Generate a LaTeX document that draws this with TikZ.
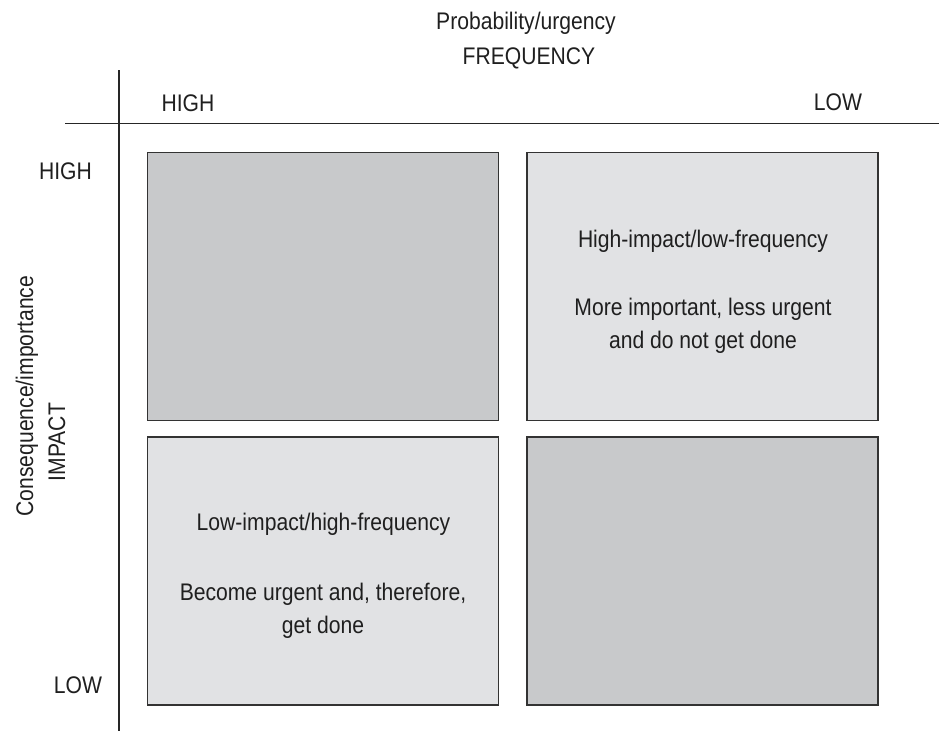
\documentclass[tikz,border=0pt]{standalone}
\usepackage{fontspec}
\setmainfont{Liberation Sans}[FakeStretch=0.88]
\begin{document}
\begin{tikzpicture}[x=1pt,y=-1pt,
  box/.style={draw=black!80,line width=1.6pt,inner sep=0pt,outer sep=0pt,anchor=north west},
  dark/.style={box,fill={rgb,255:red,200;green,201;blue,203}},
  light/.style={box,fill={rgb,255:red,225;green,226;blue,228}},
  lbl/.style={font=\fontsize{24}{33}\selectfont,text=black!88,inner sep=0pt,anchor=base},
  inbox/.style={lbl,align=center},
  axis/.style={draw=black!85,line width=1.6pt}]
\useasboundingbox (0,0) rectangle (939,731);
\coordinate (vtop) at (119,70);
\coordinate (vbot) at (119,731);
\coordinate (hl) at (65,123.5);
\coordinate (hr) at (939,123.5);
\draw[axis] (vtop) -- (vbot);
\draw[axis] (hl) -- (hr);
\node[dark,minimum width=351,minimum height=268] (tl) at (147.5,152.5) {};
\node[light,minimum width=351,minimum height=268] (tr) at (527,152.5) {};
\node[light,minimum width=351,minimum height=268] (bl) at (147.5,437) {};
\node[dark,minimum width=351,minimum height=268] (br) at (527,437) {};
\node[lbl] (prob) at (526,29) {Probability/urgency};
\node[lbl] (freq) at (529,64) {FREQUENCY};
\node[lbl] (fhigh) at (188,111) {HIGH};
\node[lbl] (flow) at (838,110) {LOW};
\node[lbl] (ihigh) at (65.5,179) {HIGH};
\node[lbl] (ilow) at (78,693) {LOW};
\node[lbl,rotate=90] (cons) at (33,396) {Consequence/importance};
\node[lbl,rotate=90] (imp) at (65,442) {IMPACT};
\node[lbl] (trt) at (703,247) {High-impact/low-frequency};
\node[inbox] (trb) at (703,348) {More important, less urgent\\and do not get done};
\node[lbl] (blt) at (323.5,530) {Low-impact/high-frequency};
\node[inbox] (blb) at (323,633) {Become urgent and, therefore,\\get done};
\end{tikzpicture}
\end{document}
